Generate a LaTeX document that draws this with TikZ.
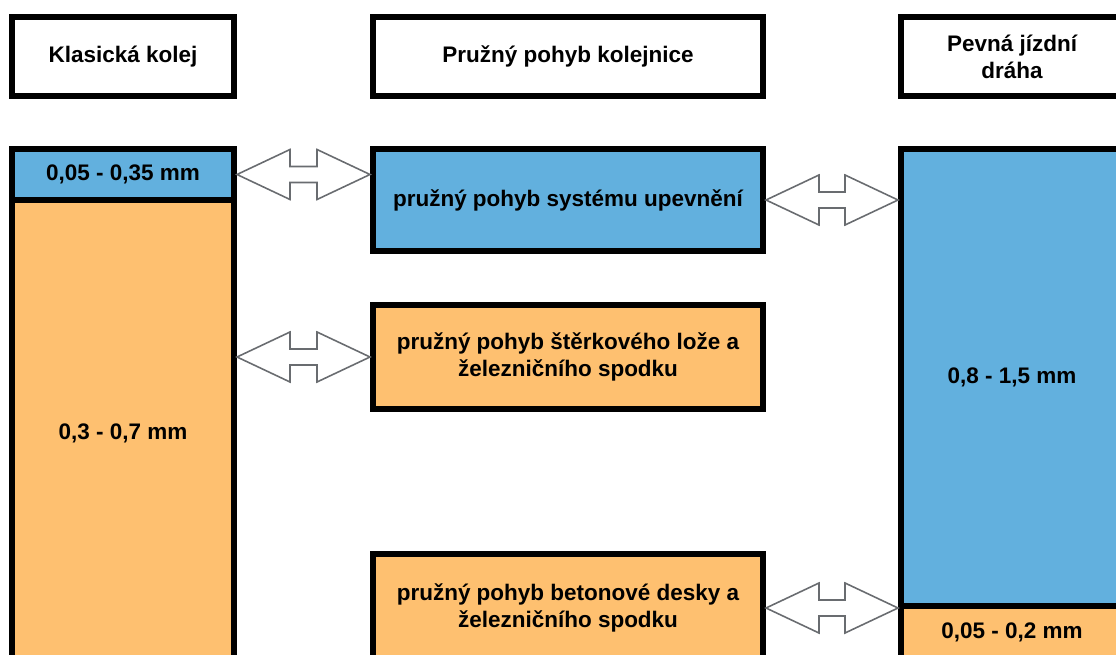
\documentclass[tikz,border=0pt]{standalone}
\usepackage{fontspec}
\setmainfont{Liberation Sans}
\usepackage{tikz}
\usetikzlibrary{calc}
\definecolor{modra}{RGB}{98,176,222}
\definecolor{oranz}{RGB}{254,192,112}
\definecolor{seda}{RGB}{105,108,112}

% hollow double arrow between two points on one level
\newcommand{\dvojsipka}[2]{%
    \draw[sipka] let \p1 = (#1), \p2 = (#2) in
        (\x1, \y1) -- (\x1+1.06cm, \y1+0.5cm) -- (\x1+1.06cm, \y1+0.16cm)
        -- (\x2-1.06cm, \y1+0.16cm) -- (\x2-1.06cm, \y1+0.5cm) -- (\x2, \y1)
        -- (\x2-1.06cm, \y1-0.5cm) -- (\x2-1.06cm, \y1-0.16cm)
        -- (\x1+1.06cm, \y1-0.16cm) -- (\x1+1.06cm, \y1-0.5cm) -- cycle;}

\begin{document}
\begin{tikzpicture}
    % Setup the styles for the boxes
        \tikzset{box/.style={rectangle,
                             draw=black,
                             line width=0.12cm,
                             align=center,
                             font=\fontsize{12.8}{15.4}\selectfont\bfseries},
                 hlava/.style={box, fill=white, minimum height=1.58cm},
                 uzka/.style={box, minimum width=4.44cm},
                 siroka/.style={box, minimum width=7.8cm},
                 sipka/.style={draw=seda, fill=white, line width=0.9pt,
                               line join=miter}}
        \useasboundingbox (0, 0) rectangle (22.32, -13.08);
        \clip (0, 0) rectangle (22.32, -13.08);
        % Draw the headings
        \node[hlava, uzka] at (2.46, -1.13)    (klas) {Klasická kolej};
        \node[hlava, siroka] at (11.36, -1.13) (kolej) {Pružný pohyb kolejnice};
        \node[hlava, uzka] at (20.24, -1.13)   (pevna) {Pevná jízdní\\dráha};
        % Classic track column
        \node[uzka, fill=oranz, minimum height=9.34cm] at (2.46, -8.67) (klasB) {0,3 - 0,7 mm};
        \node[uzka, fill=modra, minimum height=1.02cm] at (2.46, -3.49) (klasA) {0,05 - 0,35 mm};
        % Middle column
        \node[siroka, fill=modra, minimum height=2.04cm] at (11.36, -4.0)   (upev) {pružný pohyb systému upevnění};
        \node[siroka, fill=oranz, minimum height=2.08cm] at (11.36, -7.14)  (sterk) {pružný pohyb štěrkového lože a\\železničního spodku};
        \node[siroka, fill=oranz, minimum height=2.16cm] at (11.36, -12.16) (beton) {pružný pohyb betonové desky a\\železničního spodku};
        % Slab track column
        \node[uzka, fill=modra, minimum height=9.14cm] at (20.24, -7.55)  (pevA) {0,8 - 1,5 mm};
        \node[uzka, fill=oranz, minimum height=1.04cm] at (20.24, -12.64) (pevB) {0,05 - 0,2 mm};
        % Connect the boxes with double arrows
        \dvojsipka{klasA.east}{klasA.east -| upev.west}
        \dvojsipka{upev.east}{upev.east -| pevA.west}
        \dvojsipka{sterk.west -| klasB.east}{sterk.west}
        \dvojsipka{beton.east}{pevB.west}
\end{tikzpicture}
\end{document}
